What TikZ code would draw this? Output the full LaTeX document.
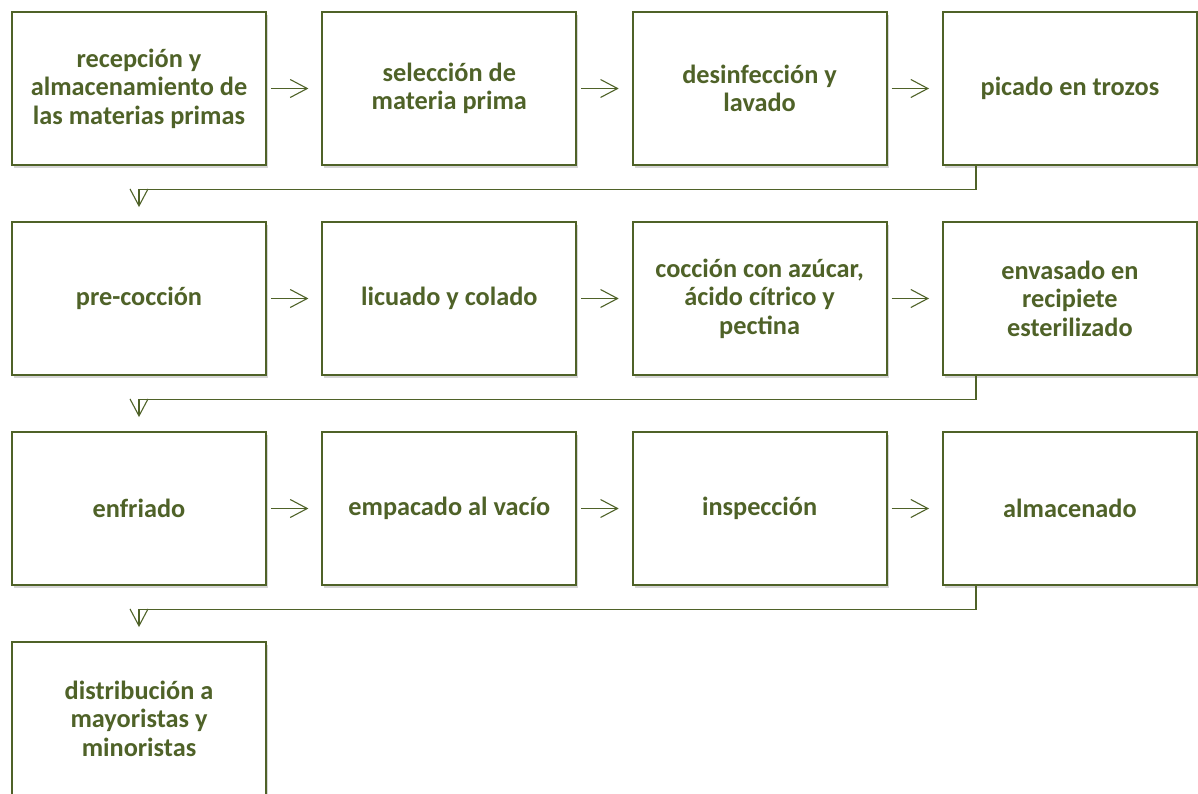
\documentclass[tikz,border=0pt]{standalone}
\usepackage{fontspec}
\setmainfont{Carlito}
\usetikzlibrary{positioning,arrows.meta,shadows}
\definecolor{olivo}{RGB}{79,98,40}

\begin{document}
\begin{tikzpicture}[x=1pt,y=1pt,yscale=-1,xscale=1,
  paso/.style={draw=olivo, line width=1.8pt, fill=white, minimum width=254pt, minimum height=153pt,
    inner sep=0pt, align=center, text=olivo, font=\bfseries\fontsize{26.3}{28.5}\selectfont,
    drop shadow={shadow xshift=2pt, shadow yshift=-3pt, fill=black!40, opacity=0.4}},
  flecha/.style={draw=olivo, line width=1.1pt, -{Straight Barb[length=17pt,width=18pt,line width=1.1pt]}}]
\useasboundingbox (0,0) rectangle (1198,794);

% fila 1
\node[paso] (recep) at (139,88.5) {recepción y\\almacenamiento de\\las materias primas};
\node[paso, right=54.5pt of recep] (selec) {selección de\\materia prima};
\node[paso, right=54.5pt of selec] (desinf) {desinfección y\\lavado};
\node[paso, right=54.5pt of desinf] (picado) {picado en trozos};
% fila 2
\node[paso, below=55.2pt of recep] (preco) {pre-cocción};
\node[paso, right=54.5pt of preco] (licuado) {licuado y colado};
\node[paso, right=54.5pt of licuado] (coccion) {cocción con azúcar,\\ácido cítrico y\\pectina};
\node[paso, right=54.5pt of coccion] (envasado) {envasado en\\recipiete\\esterilizado};
% fila 3
\node[paso, below=55.2pt of preco] (enfriado) {enfriado};
\node[paso, right=54.5pt of enfriado] (empacado) {empacado al vacío};
\node[paso, right=54.5pt of empacado] (inspec) {inspección};
\node[paso, right=54.5pt of inspec] (almacen) {almacenado};
% fila 4
\node[paso, below=55.2pt of enfriado] (distrib) {distribución a\\mayoristas y\\minoristas};

% flechas horizontales
\foreach \a/\b in {recep/selec, selec/desinf, desinf/picado,
                   preco/licuado, licuado/coccion, coccion/envasado,
                   enfriado/empacado, empacado/inspec, inspec/almacen}
  \draw[flecha] ([xshift=4pt]\a.east) -- ([xshift=-13pt]\b.west);

% retornos de fila
\foreach \a/\b in {picado/preco, envasado/enfriado, almacen/distrib}
  \draw[flecha] ([xshift=34pt]\a.south west) -- ++(0,24) -| ([yshift=-14pt]\b.north);

\end{tikzpicture}
\end{document}
